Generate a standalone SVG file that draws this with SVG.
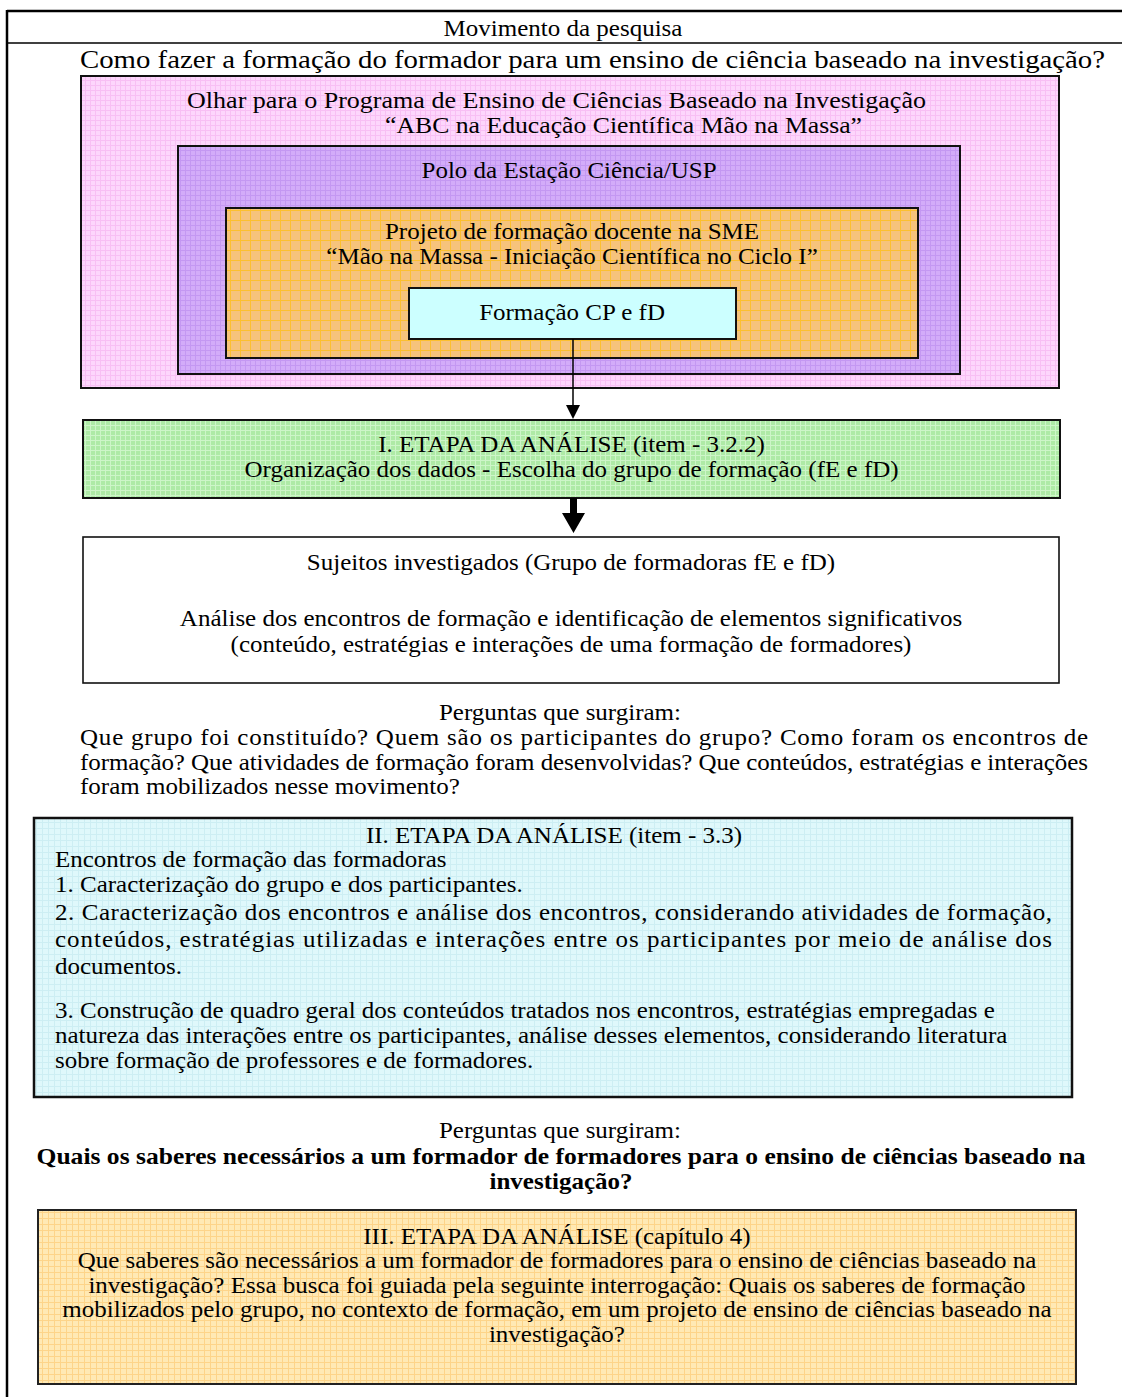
<svg xmlns="http://www.w3.org/2000/svg" width="1122" height="1397" viewBox="0 0 1122 1397">
<style>
.t{font-family:"Liberation Serif","Times New Roman",serif;font-size:24px;fill:#000}
.c{text-anchor:middle}
.b{font-weight:bold}
.box{stroke:#111;stroke-width:2}
.frame{stroke:#000;fill:none}
</style>
<defs>
<pattern id="pPink" width="5" height="5" patternUnits="userSpaceOnUse"><rect width="5" height="5" fill="#fdd6fc"/><path d="M0 0.5H5M0.5 0V5" stroke="#f8bff4" stroke-width="1"/></pattern>
<pattern id="pPurple" width="5" height="5" patternUnits="userSpaceOnUse"><rect width="5" height="5" fill="#d3acf9"/><path d="M0 0.5H5M0.5 0V5" stroke="#c498f2" stroke-width="1"/></pattern>
<pattern id="pOrange" width="10" height="10" patternUnits="userSpaceOnUse"><rect width="10" height="10" fill="#f6c37c"/><path d="M0 0.5H10M0.5 0V10" stroke="#fcc030" stroke-width="1"/></pattern>
<pattern id="pGreen" width="5" height="5" patternUnits="userSpaceOnUse"><rect width="5" height="5" fill="#aeeaa6"/><path d="M0 0.5H5M0.5 0V5" stroke="#cdf5c8" stroke-width="1"/></pattern>
<pattern id="pCyan" width="6" height="6" patternUnits="userSpaceOnUse"><rect width="6" height="6" fill="#dff8fb"/><path d="M0 0.5H6M0.5 0V6" stroke="#cdeef3" stroke-width="1"/></pattern>
<pattern id="pYellow" width="6" height="6" patternUnits="userSpaceOnUse"><rect width="6" height="6" fill="#ffe9b4"/><path d="M0 0.5H6M0.5 0V6" stroke="#fdd489" stroke-width="1"/></pattern>
</defs>
<rect width="1122" height="1397" fill="#fff"/>

<g id="frame">
<line class="frame" x1="7" y1="11" x2="1122" y2="11" stroke-width="2.5"/>
<line class="frame" x1="7" y1="43" x2="1122" y2="43" stroke-width="1.5"/>
<line class="frame" x1="7" y1="10" x2="7" y2="1397" stroke-width="2.5"/>
<g transform="scale(1.042 1)">
<text class="t c" x="540.3" y="36">Movimento da pesquisa</text>
<text class="t" x="76.8" y="68" style="font-size:25px" textLength="983.7" lengthAdjust="spacingAndGlyphs">Como fazer a formação do formador para um ensino de ciência baseado na investigação?</text>
</g>
</g>

<g id="n-programa">
<rect class="box" x="81" y="76" width="978" height="312" fill="url(#pPink)"/>
<g transform="scale(1.042 1)">
<text class="t" x="179.5" y="108" textLength="709.2" lengthAdjust="spacingAndGlyphs">Olhar para o Programa de Ensino de Ciências Baseado na Investigação</text>
<text class="t" x="369.5" y="133" textLength="457.8" lengthAdjust="spacingAndGlyphs">“ABC na Educação Científica Mão na Massa”</text>
</g>
</g>

<g id="n-polo">
<rect class="box" x="178" y="146" width="782" height="228" fill="url(#pPurple)"/>
<g transform="scale(1.042 1)">
<text class="t c" x="546.1" y="178">Polo da Estação Ciência/USP</text>
</g>
</g>

<g id="n-projeto">
<rect class="box" x="226" y="208" width="692" height="150" fill="url(#pOrange)"/>
<g transform="scale(1.042 1)">
<text class="t c" x="549" y="239">Projeto de formação docente na SME</text>
<text class="t c" x="549" y="264">“Mão na Massa - Iniciação Científica no Ciclo I”</text>
</g>
</g>

<g id="n-formacao">
<rect class="box" x="409" y="288" width="327" height="51" fill="#ccffff"/>
<g transform="scale(1.042 1)">
<text class="t c" x="549" y="320">Formação CP e fD</text>
</g>
</g>

<g id="n-etapa1">
<rect class="box" x="83" y="420" width="977" height="78" fill="url(#pGreen)"/>
<g transform="scale(1.042 1)">
<text class="t c" x="548.5" y="452">I. ETAPA DA ANÁLISE (item - 3.2.2)</text>
<text class="t c" x="548.5" y="477">Organização dos dados - Escolha do grupo de formação (fE e fD)</text>
</g>
</g>

<g id="n-sujeitos">
<rect x="83" y="537" width="976" height="146" fill="#fff" stroke="#111" stroke-width="1.6"/>
<g transform="scale(1.042 1)">
<text class="t c" x="548" y="570">Sujeitos investigados (Grupo de formadoras fE e fD)</text>
<text class="t c" x="548" y="626">Análise dos encontros de formação e identificação de elementos significativos</text>
<text class="t c" x="548" y="652">(conteúdo, estratégias e interações de uma formação de formadores)</text>
</g>
</g>

<g id="n-perguntas1">
<g transform="scale(1.042 1)">
<text class="t c" x="537.4" y="720">Perguntas que surgiram:</text>
<text class="t" x="76.8" y="745" textLength="967.4" lengthAdjust="spacing">Que grupo foi constituído? Quem são os participantes do grupo? Como foram os encontros de</text>
<text class="t" x="76.8" y="770" textLength="967.4" lengthAdjust="spacing">formação? Que atividades de formação foram desenvolvidas? Que conteúdos, estratégias e interações</text>
<text class="t" x="76.8" y="794">foram mobilizados nesse movimento?</text>
</g>
</g>

<g id="n-etapa2">
<rect x="34" y="818" width="1038" height="279" fill="url(#pCyan)" stroke="#111" stroke-width="2.5"/>
<g transform="scale(1.042 1)">
<text class="t c" x="531.7" y="843">II. ETAPA DA ANÁLISE (item - 3.3)</text>
<text class="t" x="52.8" y="867">Encontros de formação das formadoras</text>
<text class="t" x="52.8" y="892">1. Caracterização do grupo e dos participantes.</text>
<text class="t" x="52.8" y="920" textLength="956.8" lengthAdjust="spacing">2. Caracterização dos encontros e análise dos encontros, considerando atividades de formação,</text>
<text class="t" x="52.8" y="947" textLength="956.8" lengthAdjust="spacing">conteúdos, estratégias utilizadas e interações entre os participantes por meio de análise dos</text>
<text class="t" x="52.8" y="974">documentos.</text>
<text class="t" x="52.8" y="1018">3. Construção de quadro geral dos conteúdos tratados nos encontros, estratégias empregadas e</text>
<text class="t" x="52.8" y="1043">natureza das interações entre os participantes, análise desses elementos, considerando literatura</text>
<text class="t" x="52.8" y="1068">sobre formação de professores e de formadores.</text>
</g>
</g>

<g id="n-perguntas2">
<g transform="scale(1.042 1)">
<text class="t c" x="537.4" y="1138">Perguntas que surgiram:</text>
<text class="t c b" x="538.4" y="1164" textLength="1006.7" lengthAdjust="spacingAndGlyphs">Quais os saberes necessários a um formador de formadores para o ensino de ciências baseado na</text>
<text class="t c b" x="538.4" y="1189">investigação?</text>
</g>
</g>

<g id="n-etapa3">
<rect x="38" y="1210" width="1038" height="174" fill="url(#pYellow)" stroke="#222" stroke-width="2"/>
<g transform="scale(1.042 1)">
<text class="t c" x="534.5" y="1244">III. ETAPA DA ANÁLISE (capítulo 4)</text>
<text class="t c" x="534.5" y="1268">Que saberes são necessários a um formador de formadores para o ensino de ciências baseado na</text>
<text class="t c" x="534.5" y="1293">investigação? Essa busca foi guiada pela seguinte interrogação: Quais os saberes de formação</text>
<text class="t c" x="534.5" y="1317">mobilizados pelo grupo, no contexto de formação, em um projeto de ensino de ciências baseado na</text>
<text class="t c" x="534.5" y="1342">investigação?</text>
</g>
</g>

<g id="connectors">
<line x1="573" y1="339" x2="573" y2="406" stroke="#000" stroke-width="1.5"/>
<polygon points="566,405 580,405 573,419" fill="#000"/>
<polygon points="570,498 577,498 577,513 585,513 573.5,533 562,513 570,513" fill="#000"/>
</g>
</svg>
